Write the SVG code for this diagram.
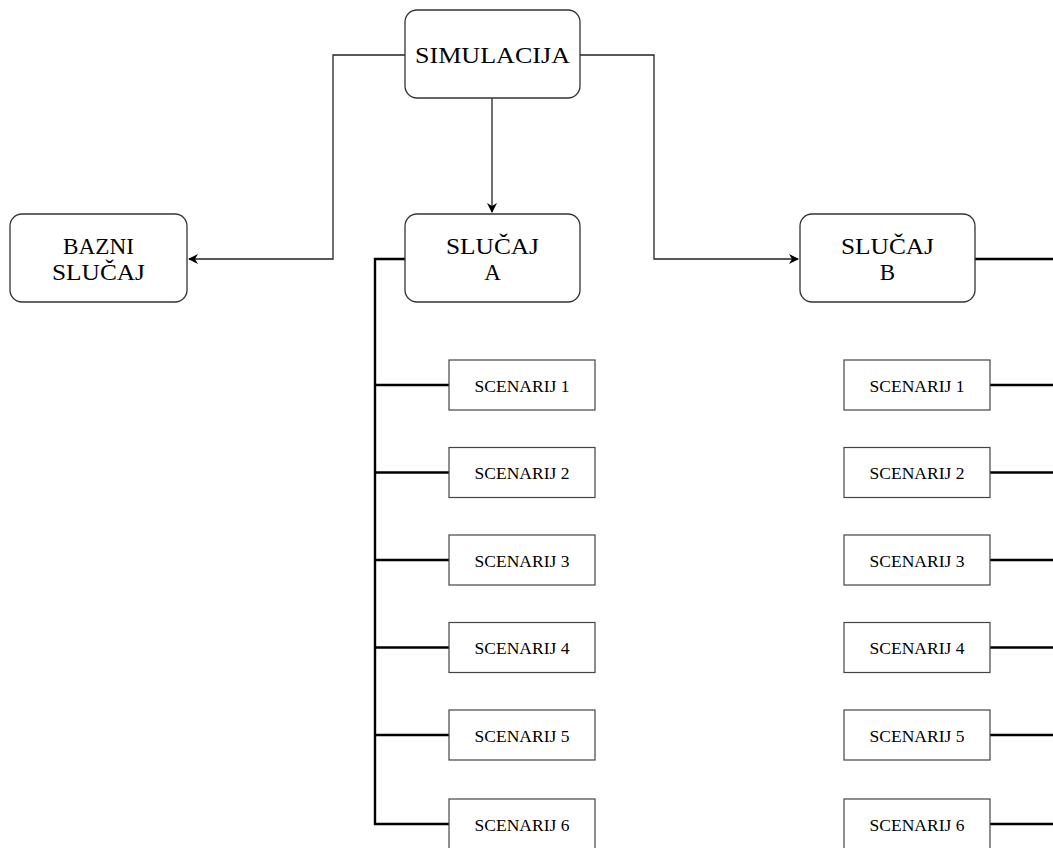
<svg xmlns="http://www.w3.org/2000/svg" width="1053" height="848" viewBox="0 0 1053 848">
<style>
.rb{fill:#fff;stroke:#333;stroke-width:1.3}
.sb{fill:#fff;stroke:#444;stroke-width:1.2}
.big{font-family:"Liberation Serif",serif;font-size:23px;fill:#000;text-anchor:middle}
.sm{font-family:"Liberation Serif",serif;font-size:17.5px;fill:#000;text-anchor:middle}
.thin{fill:none;stroke:#222;stroke-width:1.3}
.thick{fill:none;stroke:#000;stroke-width:2.4}
</style>
<defs>
<marker id="ah" viewBox="0 0 10 10" refX="9" refY="5" markerWidth="10" markerHeight="10" markerUnits="userSpaceOnUse" orient="auto">
<path d="M0,0 L10,5 L0,10 L3,5 Z" fill="#000"/>
</marker>
</defs>
<g id="connectors">
<path class="thin" d="M405,55 H333 V259 H189" marker-end="url(#ah)"/>
<path class="thin" d="M492,98 V212" marker-end="url(#ah)"/>
<path class="thin" d="M580,55 H654 V259 H798" marker-end="url(#ah)"/>
<path class="thick" d="M405,259 H375 V824 H449"/>
<path class="thick" d="M375,385 H449 M375,472.5 H449 M375,560 H449 M375,647.5 H449 M375,735 H449"/>
<path class="thick" d="M975,259 H1053 M990,385 H1053 M990,472.5 H1053 M990,560 H1053 M990,647.5 H1053 M990,735 H1053 M990,824 H1053"/>
</g>
<g id="simulacija"><rect class="rb" x="405" y="10" width="175" height="88" rx="12"/><text class="big" x="492.5" y="63" textLength="155" lengthAdjust="spacingAndGlyphs">SIMULACIJA</text></g>
<g id="bazni"><rect class="rb" x="10" y="214" width="177" height="88" rx="12"/><text class="big" x="98.5" y="254" textLength="71" lengthAdjust="spacingAndGlyphs">BAZNI</text><text class="big" x="98.5" y="280" textLength="93" lengthAdjust="spacingAndGlyphs">SLUČAJ</text></g>
<g id="slucajA"><rect class="rb" x="405" y="214" width="175" height="88" rx="12"/><text class="big" x="492.5" y="254" textLength="93" lengthAdjust="spacingAndGlyphs">SLUČAJ</text><text class="big" x="492.5" y="280">A</text></g>
<g id="slucajB"><rect class="rb" x="800" y="214" width="175" height="88" rx="12"/><text class="big" x="887.5" y="254" textLength="93" lengthAdjust="spacingAndGlyphs">SLUČAJ</text><text class="big" x="887.5" y="280">B</text></g>
<g id="a1"><rect class="sb" x="449" y="360" width="146" height="50"/><text class="sm" x="522" y="391.5">SCENARIJ 1</text></g>
<g id="a2"><rect class="sb" x="449" y="447.5" width="146" height="50"/><text class="sm" x="522" y="479">SCENARIJ 2</text></g>
<g id="a3"><rect class="sb" x="449" y="535" width="146" height="50"/><text class="sm" x="522" y="566.5">SCENARIJ 3</text></g>
<g id="a4"><rect class="sb" x="449" y="622.5" width="146" height="50"/><text class="sm" x="522" y="654">SCENARIJ 4</text></g>
<g id="a5"><rect class="sb" x="449" y="710" width="146" height="50"/><text class="sm" x="522" y="741.5">SCENARIJ 5</text></g>
<g id="a6"><rect class="sb" x="449" y="799" width="146" height="50"/><text class="sm" x="522" y="830.5">SCENARIJ 6</text></g>
<g id="b1"><rect class="sb" x="844" y="360" width="146" height="50"/><text class="sm" x="917" y="391.5">SCENARIJ 1</text></g>
<g id="b2"><rect class="sb" x="844" y="447.5" width="146" height="50"/><text class="sm" x="917" y="479">SCENARIJ 2</text></g>
<g id="b3"><rect class="sb" x="844" y="535" width="146" height="50"/><text class="sm" x="917" y="566.5">SCENARIJ 3</text></g>
<g id="b4"><rect class="sb" x="844" y="622.5" width="146" height="50"/><text class="sm" x="917" y="654">SCENARIJ 4</text></g>
<g id="b5"><rect class="sb" x="844" y="710" width="146" height="50"/><text class="sm" x="917" y="741.5">SCENARIJ 5</text></g>
<g id="b6"><rect class="sb" x="844" y="799" width="146" height="50"/><text class="sm" x="917" y="830.5">SCENARIJ 6</text></g>
</svg>
